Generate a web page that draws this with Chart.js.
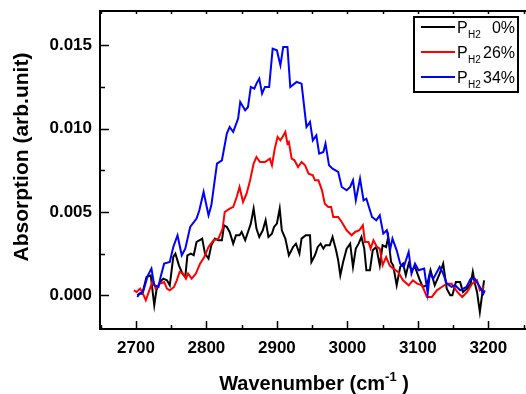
<!DOCTYPE html>
<html>
<head>
<meta charset="utf-8">
<script src="https://cdn.jsdelivr.net/npm/chart.js@4/dist/chart.umd.min.js"></script>
<style>
  html, body { margin: 0; padding: 0; background: #fff; overflow: hidden; }
</style>
</head>
<body>
<canvas id="spectrum" width="526" height="394"></canvas>
<script>
const black = "#000000";
const red = "#ff0000";
const blue = "#0000ff";

// legend text: P with subscript H2, then the percentage
const seriesNames = ["0%", "26%", "34%"];
const xTicks = [2700, 2800, 2900, 3000, 3100, 3200];
const yTicks = [0.000, 0.005, 0.010, 0.015];

// P_H2 0%
const wn0 = [2702, 2705, 2709, 2715, 2721, 2726, 2729, 2734, 2739, 2744, 2748, 2753, 2756, 2761, 2766, 2770, 2773, 2778, 2782, 2786,
  2790, 2794, 2798, 2803, 2807, 2812, 2817, 2822, 2825, 2829, 2833, 2838, 2842, 2847, 2850, 2855, 2859, 2863, 2867, 2871,
  2875, 2880, 2884, 2888, 2893, 2896, 2900, 2904, 2907, 2912, 2917, 2923, 2927, 2932, 2935, 2941, 2947, 2949, 2954, 2958,
  2962, 2966, 2969, 2975, 2979, 2984, 2987, 2990, 2994, 2999, 3004, 3008, 3012, 3016, 3020, 3024, 3027, 3032, 3036, 3041,
  3046, 3050, 3055, 3058, 3062, 3065, 3070, 3075, 3079, 3083, 3087, 3091, 3096, 3102, 3107, 3113, 3118, 3124, 3131, 3136,
  3141, 3146, 3149, 3154, 3160, 3164, 3170, 3175, 3178, 3181, 3184, 3188, 3192, 3194];
const abs0 = [0.0000, 0.0001, 0.0001, 0.0011, 0.0012, -0.0006, 0.0003, 0.0008, 0.0010, 0.0009, 0.0006, 0.0023, 0.0025, 0.0018, 0.0013, 0.0011, 0.0024, 0.0025, 0.0024, 0.0032,
  0.0033, 0.0034, 0.0025, 0.0022, 0.0030, 0.0034, 0.0033, 0.0033, 0.0042, 0.0041, 0.0038, 0.0031, 0.0036, 0.0036, 0.0038, 0.0033, 0.0038, 0.0043, 0.0052, 0.0040,
  0.0035, 0.0039, 0.0045, 0.0035, 0.0037, 0.0041, 0.0043, 0.0052, 0.0039, 0.0034, 0.0024, 0.0029, 0.0031, 0.0025, 0.0034, 0.0036, 0.0036, 0.0020, 0.0024, 0.0029,
  0.0031, 0.0028, 0.0030, 0.0030, 0.0035, 0.0027, 0.0021, 0.0012, 0.0020, 0.0028, 0.0031, 0.0017, 0.0028, 0.0031, 0.0035, 0.0028, 0.0015, 0.0015, 0.0027, 0.0029,
  0.0018, 0.0030, 0.0029, 0.0035, 0.0020, 0.0018, 0.0006, 0.0017, 0.0019, 0.0012, 0.0019, 0.0015, 0.0017, 0.0010, 0.0005, 0.0006, 0.0015, 0.0006, 0.0013, 0.0019,
  0.0004, 0.0000, 0.0000, 0.0008, 0.0008, 0.0002, 0.0004, 0.0007, 0.0014, 0.0007, 0.0002, -0.0010, 0.0003, 0.0009];

// P_H2 26%
const wn26 = [2697, 2701, 2706, 2710, 2714, 2719, 2724, 2728, 2734, 2740, 2744, 2748, 2754, 2758, 2762, 2767, 2771, 2774, 2779, 2785,
  2791, 2797, 2803, 2810, 2817, 2823, 2826, 2833, 2838, 2843, 2847, 2852, 2857, 2862, 2867, 2871, 2876, 2883, 2890, 2893,
  2897, 2901, 2905, 2908, 2912, 2915, 2917, 2921, 2925, 2930, 2935, 2940, 2945, 2951, 2954, 2959, 2964, 2968, 2973, 2977,
  2980, 2987, 2992, 2999, 3006, 3011, 3017, 3022, 3025, 3030, 3033, 3037, 3042, 3046, 3050, 3055, 3060, 3065, 3072, 3079,
  3087, 3093, 3099, 3106, 3113, 3120, 3127, 3134, 3141, 3148, 3156, 3163, 3170, 3177, 3184, 3188, 3194];
const abs26 = [0.0003, 0.0002, 0.0004, 0.0001, -0.0003, 0.0003, 0.0009, 0.0004, 0.0007, 0.0008, 0.0004, 0.0003, 0.0005, 0.0009, 0.0014, 0.0013, 0.0010, 0.0013, 0.0010, 0.0013,
  0.0019, 0.0023, 0.0029, 0.0033, 0.0034, 0.0040, 0.0050, 0.0052, 0.0053, 0.0059, 0.0065, 0.0056, 0.0061, 0.0069, 0.0079, 0.0083, 0.0080, 0.0080, 0.0082, 0.0078,
  0.0088, 0.0095, 0.0093, 0.0095, 0.0098, 0.0091, 0.0092, 0.0082, 0.0081, 0.0077, 0.0080, 0.0078, 0.0073, 0.0072, 0.0069, 0.0069, 0.0063, 0.0055, 0.0053, 0.0053,
  0.0047, 0.0047, 0.0044, 0.0039, 0.0036, 0.0038, 0.0039, 0.0042, 0.0032, 0.0032, 0.0028, 0.0033, 0.0029, 0.0028, 0.0018, 0.0023, 0.0018, 0.0016, 0.0014, 0.0009,
  0.0006, 0.0009, 0.0007, 0.0006, -0.0001, -0.0001, 0.0003, 0.0005, 0.0007, 0.0007, 0.0002, -0.0001, 0.0002, 0.0007, 0.0009, 0.0003, 0.0005];

// P_H2 34%
const wn34 = [2702, 2705, 2710, 2717, 2722, 2726, 2732, 2735, 2740, 2748, 2753, 2759, 2765, 2770, 2777, 2786, 2790, 2796, 2803, 2807,
  2815, 2822, 2829, 2833, 2838, 2845, 2848, 2855, 2859, 2863, 2868, 2871, 2875, 2879, 2883, 2889, 2894, 2900, 2905, 2909,
  2915, 2919, 2928, 2935, 2942, 2947, 2951, 2956, 2960, 2966, 2969, 2974, 2979, 2987, 2992, 2999, 3004, 3008, 3012, 3018,
  3023, 3027, 3035, 3041, 3046, 3051, 3056, 3061, 3064, 3070, 3075, 3080, 3087, 3091, 3096, 3101, 3109, 3114, 3117, 3122,
  3131, 3136, 3141, 3148, 3153, 3160, 3169, 3175, 3181, 3188, 3193, 3195];
const abs34 = [-0.0001, 0.0001, 0.0002, 0.0012, 0.0016, 0.0006, 0.0005, 0.0011, 0.0019, 0.0020, 0.0029, 0.0036, 0.0024, 0.0028, 0.0041, 0.0046, 0.0051, 0.0062, 0.0048, 0.0054,
  0.0079, 0.0081, 0.0097, 0.0101, 0.0098, 0.0106, 0.0116, 0.0111, 0.0113, 0.0125, 0.0124, 0.0127, 0.0130, 0.0121, 0.0125, 0.0125, 0.0148, 0.0147, 0.0138, 0.0149,
  0.0149, 0.0125, 0.0128, 0.0127, 0.0101, 0.0104, 0.0093, 0.0096, 0.0085, 0.0086, 0.0091, 0.0078, 0.0076, 0.0074, 0.0065, 0.0063, 0.0065, 0.0069, 0.0057, 0.0070,
  0.0057, 0.0058, 0.0047, 0.0045, 0.0048, 0.0037, 0.0039, 0.0028, 0.0034, 0.0027, 0.0019, 0.0017, 0.0026, 0.0013, 0.0019, 0.0015, 0.0016, 0.0001, 0.0013, 0.0010,
  0.0017, 0.0013, 0.0007, 0.0005, 0.0006, 0.0003, 0.0005, 0.0010, 0.0010, 0.0005, 0.0001, 0.0003];

function toPoints(xs, ys) {
  var pts = [];
  for (var i = 0; i < xs.length; i++) pts.push({ x: xs[i], y: ys[i] });
  return pts;
}

function noPadding(scale) {
  scale.paddingTop = 0;
  scale.paddingBottom = 0;
  scale.paddingLeft = 0;
  scale.paddingRight = 0;
}

// frame, inward ticks, legend and axis titles (Origin style)
const decorations = {
  id: "decorations",
  afterDatasetsDraw(chart) {
    const ctx = chart.ctx;
    const a = chart.chartArea;
    const xs = chart.scales.x;
    const ys = chart.scales.y;
    ctx.save();
    ctx.strokeStyle = black;
    ctx.lineWidth = 2;
    // right side of the frame lies just outside the picture
    ctx.strokeRect(a.left, a.top, a.right - a.left + 4, a.bottom - a.top);

    ctx.lineWidth = 1.5;
    ctx.beginPath();
    for (var v = 2650; v <= 3250; v += 50) {
      var px = Math.round(xs.getPixelForValue(v)) + 0.5;
      var major = v % 100 === 0;
      ctx.moveTo(px, a.bottom);
      ctx.lineTo(px, a.bottom - (major ? 8 : 4));
      ctx.moveTo(px, a.top);
      ctx.lineTo(px, a.top + 3);
    }
    for (var k = 0; k <= 6; k++) {
      var py = Math.round(ys.getPixelForValue(k * 0.0025)) + 0.5;
      ctx.moveTo(a.left, py);
      ctx.lineTo(a.left + (k % 2 === 0 ? 9 : 5), py);
    }
    ctx.stroke();

    // legend
    ctx.lineWidth = 2;
    ctx.strokeRect(414, 17, 104, 75);
    const colors = [black, red, blue];
    for (var i = 0; i < seriesNames.length; i++) {
      var ly = 27 + i * 25;
      ctx.strokeStyle = colors[i];
      ctx.beginPath();
      ctx.moveTo(421, ly);
      ctx.lineTo(455, ly);
      ctx.stroke();
      ctx.fillStyle = black;
      ctx.textBaseline = "alphabetic";
      ctx.textAlign = "left";
      ctx.font = "16px 'Liberation Sans', Arial, sans-serif";
      ctx.fillText("P", 457, ly + 6);
      ctx.font = "10px 'Liberation Sans', Arial, sans-serif";
      ctx.fillText("H2", 468, ly + 11);
      ctx.font = "16px 'Liberation Sans', Arial, sans-serif";
      ctx.textAlign = "right";
      ctx.fillText(seriesNames[i], 515, ly + 6);
    }

    // x title with superscript
    ctx.fillStyle = black;
    ctx.textAlign = "left";
    const big = "bold 20px 'Liberation Sans', Arial, sans-serif";
    const small = "bold 13px 'Liberation Sans', Arial, sans-serif";
    ctx.font = big;
    const w1 = ctx.measureText("Wavenumber (cm").width;
    const w3 = ctx.measureText(" )").width;
    ctx.font = small;
    const w2 = ctx.measureText("-1").width;
    var tx = 314 - (w1 + w2 + w3) / 2;
    ctx.font = big;
    ctx.fillText("Wavenumber (cm", tx, 390);
    ctx.font = small;
    ctx.fillText("-1", tx + w1, 381);
    ctx.font = big;
    ctx.fillText(" )", tx + w1 + w2, 390);

    // y title
    ctx.translate(28, 157);
    ctx.rotate(-Math.PI / 2);
    ctx.textAlign = "center";
    ctx.font = "bold 21px 'Liberation Sans', Arial, sans-serif";
    ctx.fillText("Absorption (arb.unit)", 0, 0);
    ctx.restore();
  }
};

function spectrumChart() {
  const ctx = document.getElementById("spectrum");
  const tickFont = { family: "'Liberation Sans', Arial, sans-serif", size: 17, weight: "bold" };

  new Chart(ctx, {
    type: "scatter",
    data: {
      datasets: [{
        label: "PH2 " + seriesNames[0],
        data: toPoints(wn0, abs0),
        borderColor: black,
        order: 2,
      }, {
        label: "PH2 " + seriesNames[1],
        data: toPoints(wn26, abs26),
        borderColor: red,
        order: 1,
      }, {
        label: "PH2 " + seriesNames[2],
        data: toPoints(wn34, abs34),
        borderColor: blue,
        order: 0,
      }],
    },
    options: {
      responsive: false,
      animation: false,
      showLine: true,
      elements: {
        point: { radius: 0, hoverRadius: 0 },
        line: { borderWidth: 2, tension: 0 },
      },
      layout: { autoPadding: false, padding: { top: 11, right: 0, left: 0, bottom: 0 } },
      plugins: {
        legend: { display: false },
        tooltip: { enabled: false },
      },
      scales: {
        x: {
          type: "linear",
          min: 2649,
          max: 3253.5,
          grid: { display: false, drawTicks: false },
          border: { display: false },
          afterBuildTicks: function (scale) {
            scale.ticks = xTicks.map(function (v) { return { value: v }; });
          },
          afterFit: function (scale) {
            scale.height = 65;
            noPadding(scale);
          },
          ticks: {
            autoSkip: false,
            maxRotation: 0,
            padding: 9,
            color: black,
            font: tickFont,
            callback: function (v) { return String(v); },
          },
        },
        y: {
          min: -0.002022,
          max: 0.017058,
          grid: { display: false, drawTicks: false },
          border: { display: false },
          afterBuildTicks: function (scale) {
            scale.ticks = yTicks.map(function (v) { return { value: v }; });
          },
          afterFit: function (scale) {
            scale.width = 100;
            noPadding(scale);
          },
          ticks: {
            autoSkip: false,
            padding: 8,
            color: black,
            font: tickFont,
            callback: function (v) { return v.toFixed(3); },
          },
        },
      },
    },
    plugins: [decorations],
  });
}

spectrumChart();
</script>
</body>
</html>
